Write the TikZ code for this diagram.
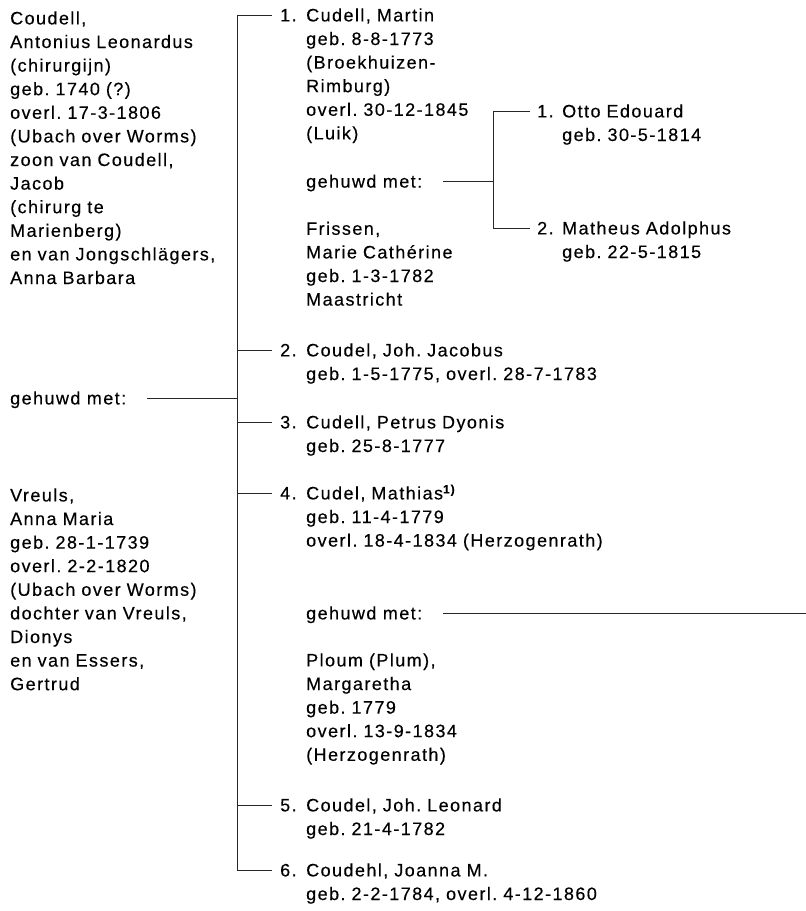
\documentclass[tikz,border=0pt]{standalone}
\usepackage{fontspec}
\setmainfont[LetterSpace=8,FakeBold=0.3]{Liberation Sans}
\frenchspacing
\begin{document}
\begin{tikzpicture}[x=1pt,y=-1pt]
\tikzset{
  fnt/.style={font=\fontsize{18}{23.6}\selectfont\frenchspacing},
  tx/.style={fnt, anchor=base west, inner sep=0pt, text width=330pt, align=left},
  one/.style={fnt, anchor=base west, inner sep=0pt},
  num/.style={fnt, anchor=base west, inner ysep=0pt, inner xsep=8pt},
  ln/.style={line width=0.9pt, draw=black!85}
}
\useasboundingbox (0,0) rectangle (806,911);
\coordinate (trunk) at (237,0);
\coordinate (trunk2) at (493,0);
% left column
\node[tx] (ta) at (10,24.4) {Coudell,\\Antonius Leonardus\\(chirurgijn)\\geb. 1740 (?)\\overl. 17-3-1806\\(Ubach over Worms)\\zoon van Coudell,\\Jacob\\(chirurg te\\Marienberg)\\en van Jongschlägers,\\Anna Barbara};
\node[one] (lg) at (10,404.4) {gehuwd met:};
\coordinate (lgL) at (147,398);
\node[tx] (tb) at (10,501.4) {Vreuls,\\Anna Maria\\geb. 28-1-1739\\overl. 2-2-1820\\(Ubach over Worms)\\dochter van Vreuls,\\Dionys\\en van Essers,\\Gertrud};
% child 1
\node[num] (n1) at (272,21.4) {1.};
\node[tx] (t1) at (306,21.4) {Cudell, Martin\\geb. 8-8-1773\\(Broekhuizen-\\Rimburg)\\overl. 30-12-1845\\(Luik)};
\node[one] (mg1) at (306,187.6) {gehuwd met:};
\coordinate (mg1L) at (443,181);
\node[tx] (f1) at (306,234.8) {Frissen,\\Marie Cathérine\\geb. 1-3-1782\\Maastricht};
\node[num, inner xsep=7pt] (o1) at (530,117.4) {1.};
\node[tx] (ot1) at (562,117.4) {Otto Edouard\\geb. 30-5-1814};
\node[num, inner xsep=7pt] (o2) at (530,234.4) {2.};
\node[tx] (ot2) at (562,234.4) {Matheus Adolphus\\geb. 22-5-1815};
% children 2-6
\node[num] (n2) at (272,356.4) {2.};
\node[tx] (t2) at (306,356.4) {Coudel, Joh. Jacobus\\geb. 1-5-1775, overl. 28-7-1783};
\node[num] (n3) at (272,428.4) {3.};
\node[tx] (t3) at (306,428.4) {Cudell, Petrus Dyonis\\geb. 25-8-1777};
\node[num] (n4) at (272,499.4) {4.};
\node[tx] (t4) at (306,499.4) {Cudel, Mathias\raisebox{6pt}{\fontsize{12}{12}\selectfont\bfseries 1)}\\geb. 11-4-1779\\overl. 18-4-1834 (Herzogenrath)};
\node[one] (mg4) at (306,619.4) {gehuwd met:};
\coordinate (mg4L) at (443,613);
\coordinate (mg4R) at (806,613);
\node[tx] (p4) at (306,666.4) {Ploum (Plum),\\Margaretha\\geb. 1779\\overl. 13-9-1834\\(Herzogenrath)};
\node[num] (n5) at (272,811.4) {5.};
\node[tx] (t5) at (306,811.4) {Coudel, Joh. Leonard\\geb. 21-4-1782};
\node[num] (n6) at (272,876.4) {6.};
\node[tx] (t6) at (306,876.4) {Coudehl, Joanna M.\\geb. 2-2-1784, overl. 4-12-1860};
% connectors
\draw[ln] (n1.west) -- (n1.west -| trunk) -- (n6.west -| trunk) -- (n6.west);
\foreach \n in {n2,n3,n4,n5} \draw[ln] (\n.west -| trunk) -- (\n.west);
\draw[ln] (lgL) -- (lgL -| trunk);
\draw[ln] (o1.west) -- (o1.west -| trunk2) -- (o2.west -| trunk2) -- (o2.west);
\draw[ln] (mg1L) -- (mg1L -| trunk2);
\draw[ln] (mg4L) -- (mg4R);
\end{tikzpicture}
\end{document}
